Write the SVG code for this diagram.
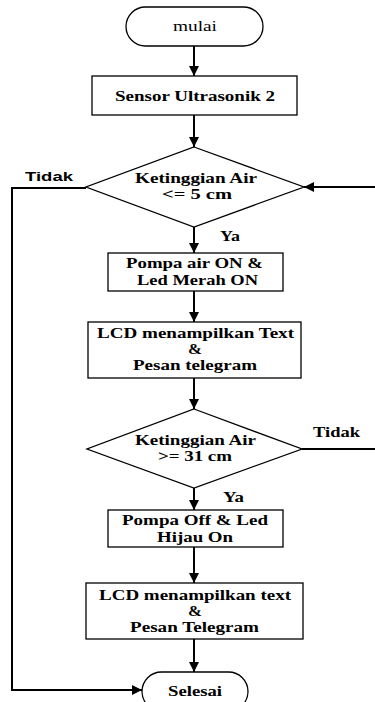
<svg xmlns="http://www.w3.org/2000/svg" width="375" height="702" viewBox="0 0 375 702">
<defs>
<marker id="ah" viewBox="0 0 10 10" refX="10" refY="5" markerWidth="10" markerHeight="11" markerUnits="userSpaceOnUse" orient="auto">
<path d="M0,0 L10,5 L0,10 z" fill="#000"/>
</marker>
<style>
.shape{fill:#fff;stroke:#000;stroke-width:1.3}
.con{fill:none;stroke:#000;stroke-width:2}
.t{font-family:"Liberation Serif","Times New Roman",serif;font-weight:bold;font-size:14px;fill:#000;text-anchor:middle}
.n{font-family:"Liberation Serif","Times New Roman",serif;font-weight:normal;font-size:14px;fill:#000;text-anchor:middle}
.s{font-family:"Liberation Sans",Arial,sans-serif;font-weight:bold;font-size:12.5px;fill:#000;text-anchor:middle}
</style>
</defs>
<rect width="375" height="702" fill="#fff"/>
<g id="connectors">
<line class="con" x1="194" y1="46" x2="194" y2="76" marker-end="url(#ah)"/>
<line class="con" x1="194" y1="115" x2="194" y2="147" marker-end="url(#ah)"/>
<line class="con" x1="194" y1="227" x2="194" y2="253" marker-end="url(#ah)"/>
<line class="con" x1="194" y1="291" x2="194" y2="322" marker-end="url(#ah)"/>
<line class="con" x1="194" y1="378" x2="194" y2="409" marker-end="url(#ah)"/>
<line class="con" x1="194" y1="488" x2="194" y2="510" marker-end="url(#ah)"/>
<line class="con" x1="194" y1="547" x2="194" y2="583" marker-end="url(#ah)"/>
<line class="con" x1="194" y1="639" x2="194" y2="672" marker-end="url(#ah)"/>
<polyline class="con" points="86,188 12,188 12,690 142,690" marker-end="url(#ah)"/>
<line class="con" x1="376" y1="187" x2="304" y2="187" marker-end="url(#ah)"/>
<line class="con" x1="302" y1="449" x2="376" y2="449"/>
<text class="s" x="49" y="181" textLength="48" lengthAdjust="spacingAndGlyphs">Tidak</text>
<text class="t" x="230" y="241" textLength="20" lengthAdjust="spacingAndGlyphs">Ya</text>
<text class="t" x="336.5" y="437" textLength="47" lengthAdjust="spacingAndGlyphs">Tidak</text>
<text class="t" x="233.5" y="502" textLength="21" lengthAdjust="spacingAndGlyphs">Ya</text>
</g>
<g id="mulai">
<rect class="shape" x="126" y="7" width="137" height="39" rx="19.5"/>
<text class="n" x="195" y="31" textLength="44" lengthAdjust="spacingAndGlyphs">mulai</text>
</g>
<g id="sensor">
<rect class="shape" x="92" y="76" width="205" height="39"/>
<text class="t" x="195" y="101" textLength="160" lengthAdjust="spacingAndGlyphs">Sensor Ultrasonik 2</text>
</g>
<g id="cek1">
<polygon class="shape" points="194,147 304,187 194,227 86,187"/>
<text class="t" x="196" y="183" textLength="122" lengthAdjust="spacingAndGlyphs">Ketinggian Air</text>
<text class="t" x="197" y="199" textLength="70" lengthAdjust="spacingAndGlyphs">&lt;=  5 cm</text>
</g>
<g id="pompaOn">
<rect class="shape" x="108" y="253" width="175" height="38"/>
<text class="t" x="194.5" y="268" textLength="137" lengthAdjust="spacingAndGlyphs">Pompa air ON &amp;</text>
<text class="t" x="197.5" y="285" textLength="121" lengthAdjust="spacingAndGlyphs">Led Merah ON</text>
</g>
<g id="lcd1">
<rect class="shape" x="88" y="322" width="213" height="56"/>
<text class="t" x="195.5" y="338" textLength="197" lengthAdjust="spacingAndGlyphs">LCD menampilkan Text</text>
<text class="t" x="195" y="354" textLength="14" lengthAdjust="spacingAndGlyphs">&amp;</text>
<text class="t" x="195" y="370" textLength="124" lengthAdjust="spacingAndGlyphs">Pesan telegram</text>
</g>
<g id="cek2">
<polygon class="shape" points="194,409 302,449 194,488 87,449"/>
<text class="t" x="195.5" y="445" textLength="121" lengthAdjust="spacingAndGlyphs">Ketinggian Air</text>
<text class="t" x="195" y="461" textLength="74" lengthAdjust="spacingAndGlyphs">&gt;= 31 cm</text>
</g>
<g id="pompaOff">
<rect class="shape" x="108" y="510" width="175" height="37"/>
<text class="t" x="195" y="525" textLength="146" lengthAdjust="spacingAndGlyphs">Pompa Off &amp; Led</text>
<text class="t" x="195" y="542" textLength="76" lengthAdjust="spacingAndGlyphs">Hijau On</text>
</g>
<g id="lcd2">
<rect class="shape" x="86" y="583" width="217" height="56"/>
<text class="t" x="195" y="600" textLength="192" lengthAdjust="spacingAndGlyphs">LCD menampilkan text</text>
<text class="t" x="195" y="616" textLength="14" lengthAdjust="spacingAndGlyphs">&amp;</text>
<text class="t" x="194.5" y="632" textLength="129" lengthAdjust="spacingAndGlyphs">Pesan Telegram</text>
</g>
<g id="selesai">
<rect class="shape" x="142" y="672" width="106" height="39" rx="19.5"/>
<text class="t" x="195" y="696" textLength="54" lengthAdjust="spacingAndGlyphs">Selesai</text>
</g>
</svg>
